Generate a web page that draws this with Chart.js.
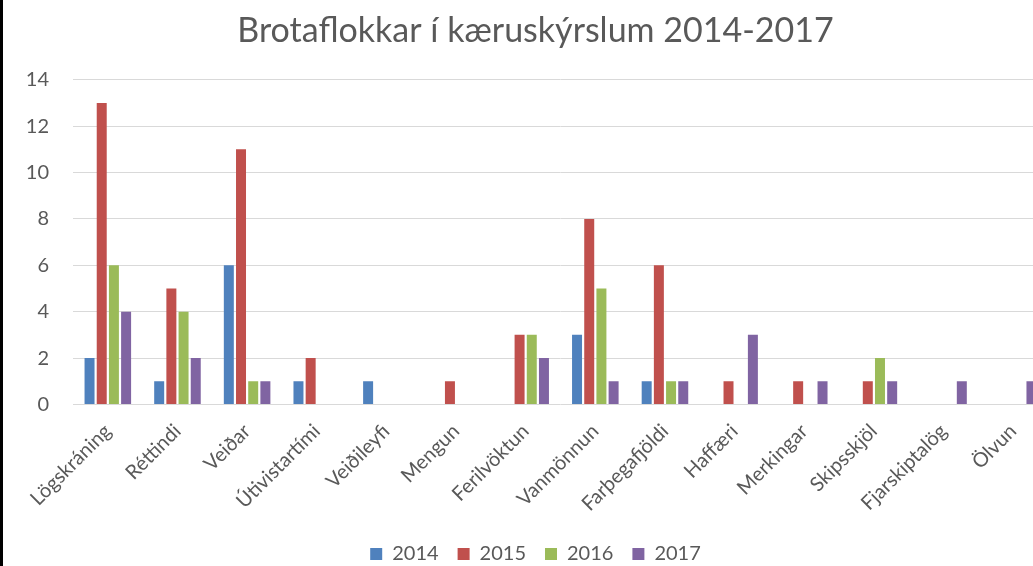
<!DOCTYPE html>
<html lang="is">
<head>
    <meta charset="UTF-8" />
    <title>Brotaflokkar í kæruskýrslum 2014-2017</title>
    <style>
        html, body {
            margin: 0;
            padding: 0;
            overflow: hidden;
            background: #fff;
        }
        #wrap {
            position: absolute;
            left: 0;
            top: 0;
            width: 1068px;
            height: 566px;
            border-left: 3px solid #000;
        }
    </style>
</head>
<body>
    <div id="wrap">
        <canvas id="chart-1"></canvas>
    </div>

    <script src="https://cdn.jsdelivr.net/npm/chart.js"></script>
    <script>
        // Data
        const categories = ["Lögskráning", "Réttindi", "Veiðar", "Útivistartími", "Veiðileyfi", "Mengun",
            "Ferilvöktun", "Vanmönnun", "Farþegafjöldi", "Haffæri", "Merkingar", "Skipsskjöl", "Fjarskiptalög", "Ölvun"];
        const years = ["2014", "2015", "2016", "2017"];
        const v2014 = [2, 1, 6, 1, 1, 0, 0, 3, 1, 0, 0, 0, 0, 0];
        const v2015 = [13, 5, 11, 2, 0, 1, 3, 8, 6, 1, 1, 1, 0, 0];
        const v2016 = [6, 4, 1, 0, 0, 0, 3, 5, 1, 0, 0, 2, 0, 0];
        const v2017 = [4, 2, 1, 0, 0, 0, 2, 1, 1, 3, 1, 1, 1, 1];
        const colors = ["#4F81BD", "#C0504D", "#9BBB59", "#8064A2"];

        const font = "Lato, 'Open Sans', sans-serif";
        const grey = "#595959";

        const canvas = document.getElementById("chart-1");
        canvas.width = 1068;
        canvas.height = 566;

        const chart = new Chart(canvas.getContext("2d"), {
            type: "bar",
            data: {
                labels: categories,
                datasets: [v2014, v2015, v2016, v2017].map((d, i) => ({
                    label: years[i],
                    data: d,
                    backgroundColor: colors[i],
                    categoryPercentage: 0.7,
                    barPercentage: 0.82,
                })),
            },
            options: {
                responsive: false,
                animation: false,
                layout: {
                    padding: { left: 20, right: 23, top: 6, bottom: -8 }
                },
                plugins: {
                    title: {
                        display: true,
                        text: "Brotaflokkar í kæruskýrslum 2014-2017",
                        color: grey,
                        font: { family: font, size: 34, weight: "normal" },
                        padding: { top: 5, bottom: 28 },
                    },
                    legend: {
                        position: "bottom",
                        labels: {
                            color: grey,
                            font: { family: font, size: 20 },
                            boxWidth: 12,
                            boxHeight: 12,
                            padding: 19,
                        },
                    },
                    tooltip: { enabled: false },
                },
                scales: {
                    x: {
                        grid: { display: false },
                        border: { display: false },
                        ticks: {
                            color: grey,
                            font: { family: font, size: 20 },
                            minRotation: 45,
                            maxRotation: 45,
                            autoSkip: false,
                            padding: 7,
                        },
                        afterFit(scale) { scale.height += 2; },
                    },
                    y: {
                        min: 0,
                        max: 14,
                        grid: { color: "#d9d9d9", drawTicks: false },
                        border: { display: false },
                        ticks: {
                            stepSize: 2,
                            color: grey,
                            font: { family: font, size: 20 },
                            padding: 24,
                        },
                        afterFit(scale) { scale.width = 50; },
                    },
                },
            },
        });
    </script>
</body>
</html>
